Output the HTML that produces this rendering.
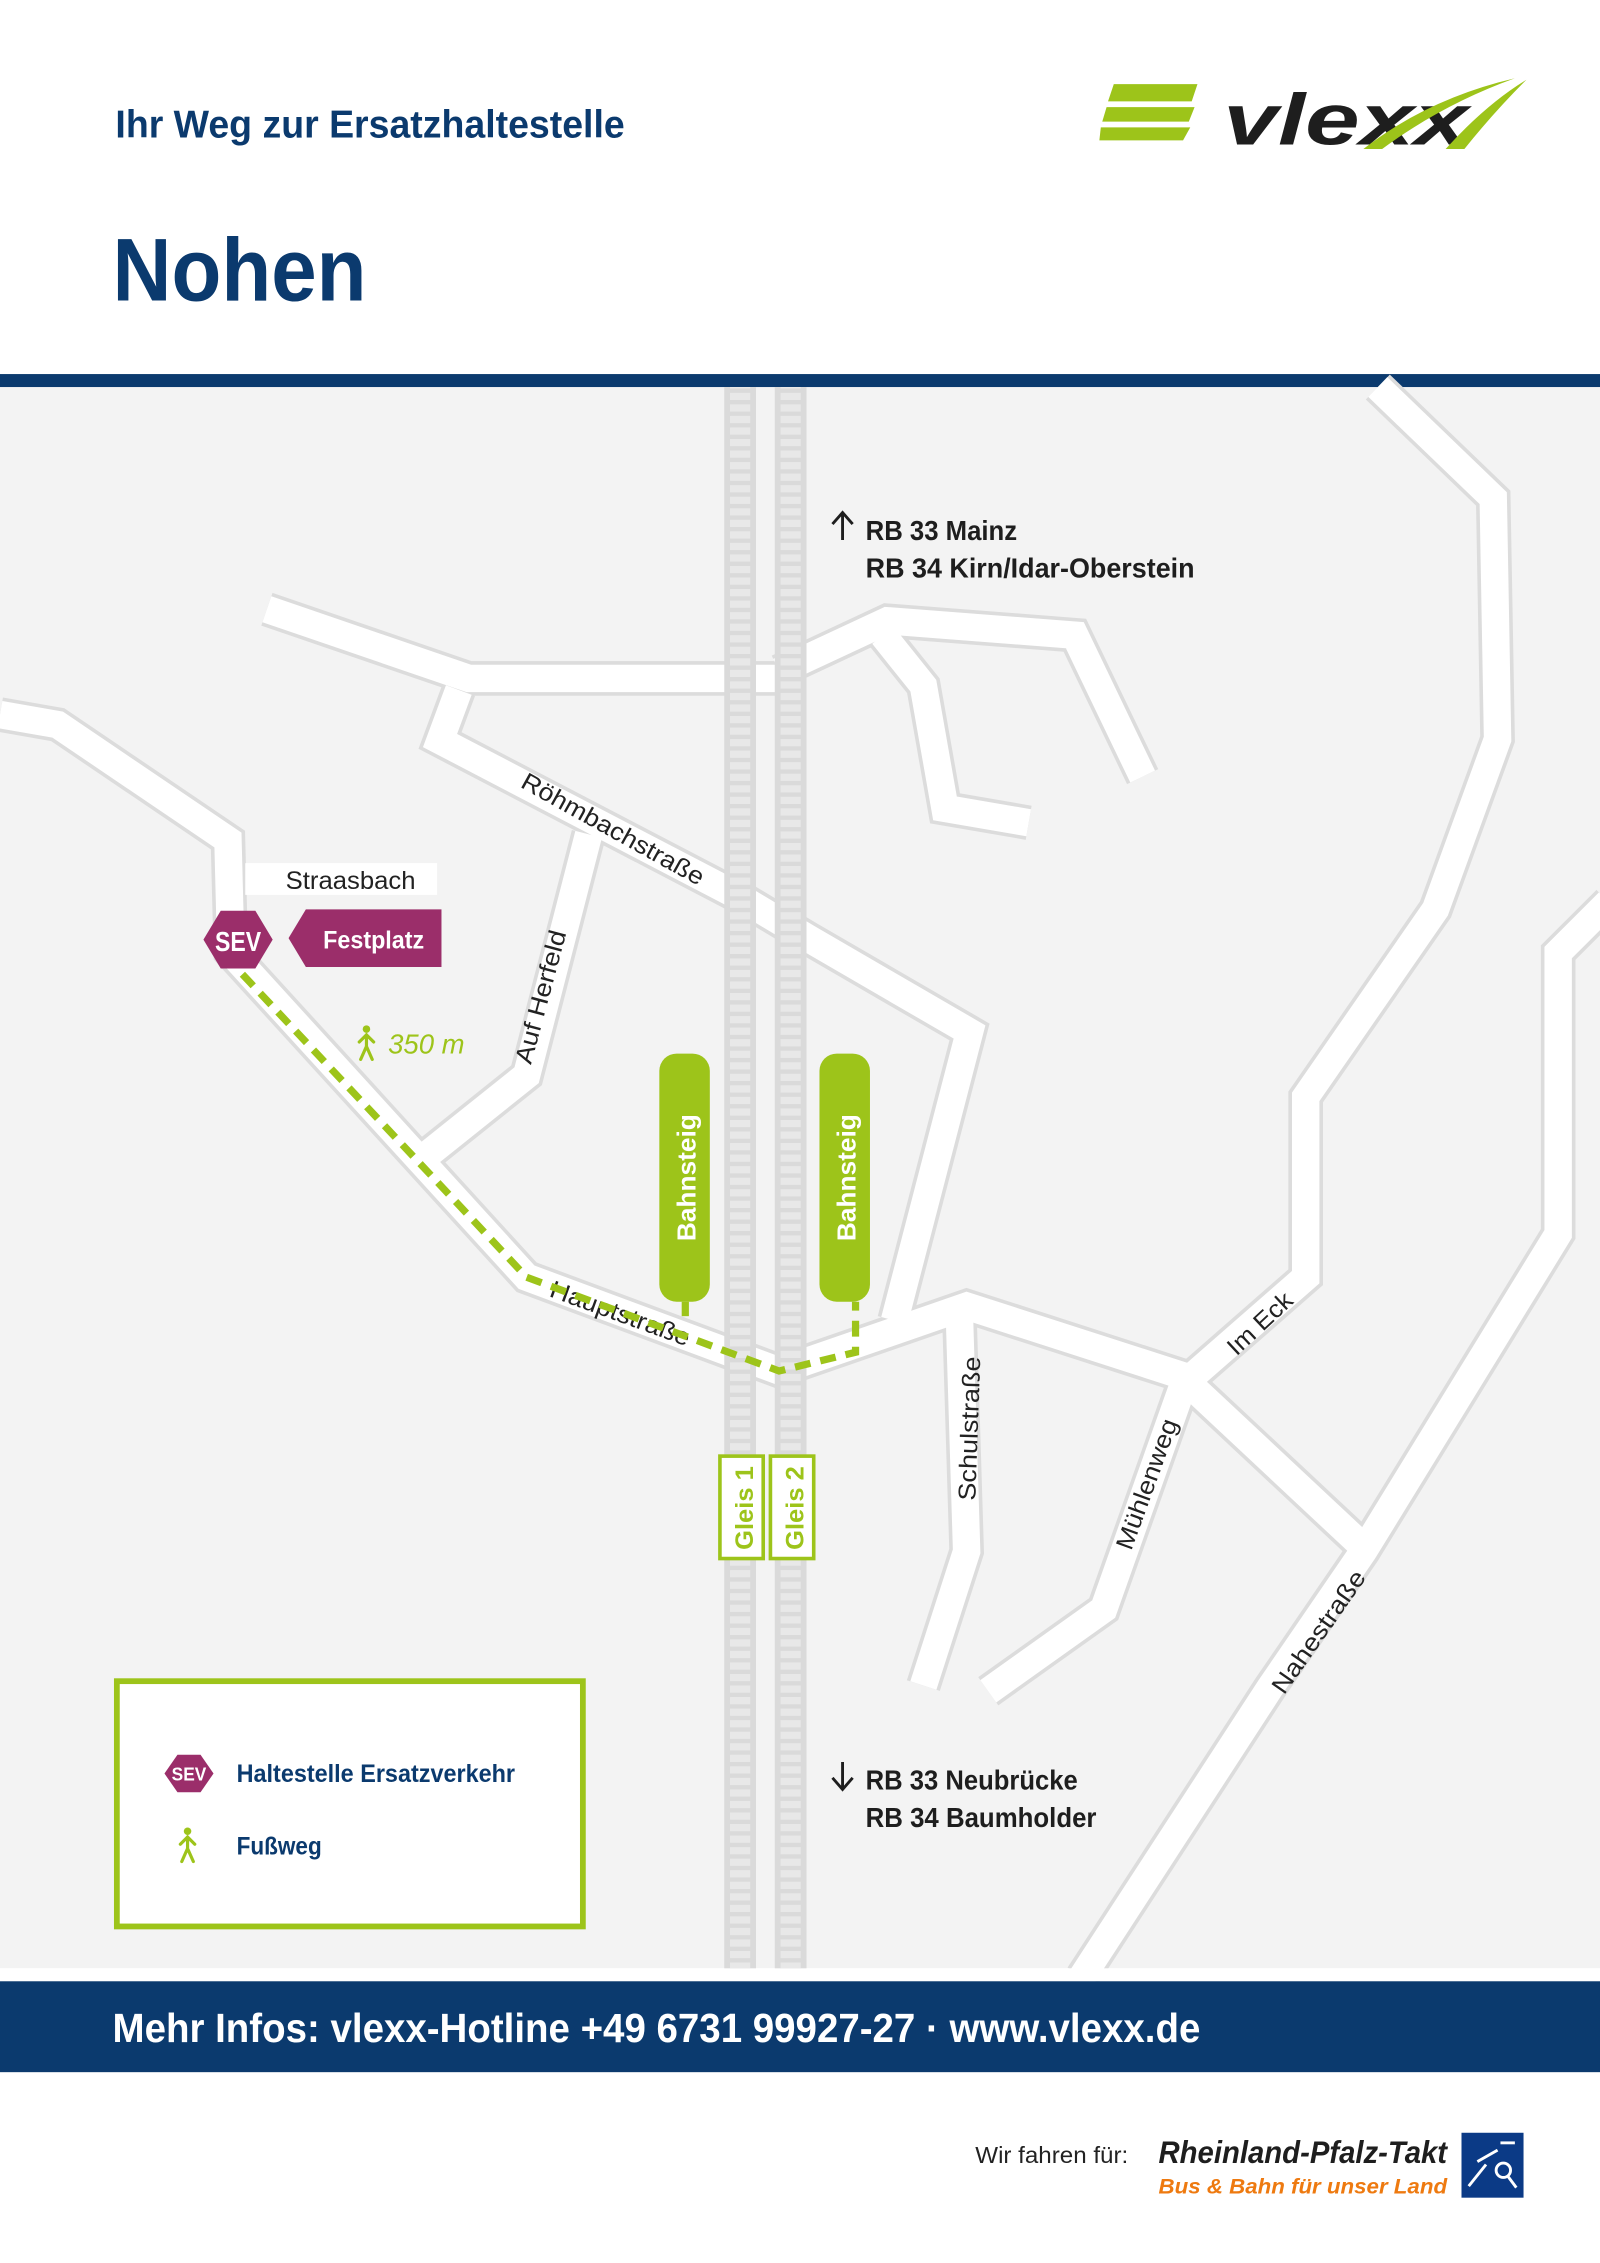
<!DOCTYPE html>
<html><head><meta charset="utf-8"><style>
html,body{margin:0;padding:0;background:#fff}
svg{display:block}
text{font-family:"Liberation Sans",sans-serif}
</style></head><body>
<svg width="1600" height="2263" viewBox="0 0 1109 1568" xmlns="http://www.w3.org/2000/svg">
<rect width="1109" height="1568" fill="#fff"/>
<text x="80" y="95" font-size="27" font-weight="bold" fill="#0b3a6e" textLength="353" lengthAdjust="spacingAndGlyphs">Ihr Weg zur Ersatzhaltestelle</text>
<text x="78" y="208" font-size="62" font-weight="bold" fill="#0b3a6e" textLength="176" lengthAdjust="spacingAndGlyphs">Nohen</text>
<!-- logo -->
<g fill="#9dc41a">
<path d="M772,58 L830,58 L826,70 L768,70 Z"/>
<path d="M767,74 L828,74 L824,84 L764,84 Z"/>
<path d="M763,88 L825,88 L820,97 L762,97 Z"/>
</g>
<text x="848" y="100" font-size="50" font-weight="bold" font-style="italic" fill="#1e1e1e" textLength="170" lengthAdjust="spacingAndGlyphs">vlexx</text>
<path d="M945,103 Q990,68 1050,54 Q1000,72 958,103 Z" fill="#9dc41a"/>
<path d="M1002,103 Q1030,72 1058,55 Q1035,78 1015,103 Z" fill="#9dc41a"/>
<!-- map -->
<rect x="0" y="268" width="1109" height="1096" fill="#f3f3f3"/>
<rect x="0" y="259" width="1109" height="9" fill="#0b3a6e"/>
<g fill="none" stroke-linejoin="miter" stroke-linecap="butt">
<g stroke="#dcdcdc" stroke-width="24">
<polyline points="955,268 1035,345 1038,512 995,630 905,760 905,885 825,955"/>
<polyline points="820,960 765,1115 685,1172"/>
<polyline points="1115,625 1080,660 1080,855 945,1075 880,1170 750,1370"/>
<polyline points="820,955 945,1072"/>
<polyline points="0,495 40,502 158,582 160,660 365,885 540,950 670,905 825,955"/>
<polyline points="290,805 365,745 408,578"/>
<polyline points="185,422 325,470 540,470"/>
<polyline points="318,478 305,513 510,620 560,650 672,715 620,915"/>
<polyline points="665,912 670,1075 640,1168"/>
<polyline points="540,465 615,430 745,440 792,538"/>
<polyline points="612,440 640,475 655,560 713,570"/>
</g>
<g stroke="#fff" stroke-width="19">
<polyline points="955,268 1035,345 1038,512 995,630 905,760 905,885 825,955"/>
<polyline points="820,960 765,1115 685,1172"/>
<polyline points="1115,625 1080,660 1080,855 945,1075 880,1170 750,1370"/>
<polyline points="820,955 945,1072"/>
<polyline points="0,495 40,502 158,582 160,660 365,885 540,950 670,905 825,955"/>
<polyline points="290,805 365,745 408,578"/>
<polyline points="185,422 325,470 540,470"/>
<polyline points="318,478 305,513 510,620 560,650 672,715 620,915"/>
<polyline points="665,912 670,1075 640,1168"/>
<polyline points="540,465 615,430 745,440 792,538"/>
<polyline points="612,440 640,475 655,560 713,570"/>
</g>
</g>
<rect x="0" y="1364" width="1109" height="9" fill="#fff"/>
<rect x="170" y="598" width="133" height="22" fill="#fff"/>
<text x="198" y="616" font-size="17" fill="#222" textLength="90" lengthAdjust="spacingAndGlyphs">Straasbach</text>
<!-- tracks -->
<defs><pattern id="ties" width="14" height="8" patternUnits="userSpaceOnUse"><rect width="14" height="5" fill="#e8e8e8"/></pattern></defs>
<rect x="502" y="268" width="22" height="1096" fill="#dadada"/>
<rect x="537" y="268" width="22" height="1096" fill="#dadada"/>
<rect x="506" y="268" width="14" height="1096" fill="url(#ties)"/>
<rect x="541" y="268" width="14" height="1096" fill="url(#ties)"/>
<!-- road labels -->
<g font-size="17" fill="#222">
<text transform="translate(360,545) rotate(29)" textLength="142" lengthAdjust="spacingAndGlyphs">Röhmbachstraße</text>
<text transform="translate(368,738) rotate(-75)" textLength="95" lengthAdjust="spacingAndGlyphs">Auf Herfeld</text>
<text transform="translate(380,898) rotate(20)" textLength="102" lengthAdjust="spacingAndGlyphs">Hauptstraße</text>
<text transform="translate(676,1040) rotate(-88)" textLength="100" lengthAdjust="spacingAndGlyphs">Schulstraße</text>
<text transform="translate(784,1075) rotate(-70)" textLength="95" lengthAdjust="spacingAndGlyphs">Mühlenweg</text>
<text transform="translate(857,940) rotate(-43)" textLength="55" lengthAdjust="spacingAndGlyphs">Im Eck</text>
<text transform="translate(890,1175) rotate(-55)" textLength="100" lengthAdjust="spacingAndGlyphs">Nahestraße</text>
</g>
<!-- platforms -->
<rect x="457" y="730" width="35" height="172" rx="12" fill="#9dc41a"/>
<rect x="568" y="730" width="35" height="172" rx="12" fill="#9dc41a"/>
<text transform="translate(482,860) rotate(-90)" font-size="18" font-weight="bold" fill="#fff" textLength="88" lengthAdjust="spacingAndGlyphs">Bahnsteig</text>
<text transform="translate(593,860) rotate(-90)" font-size="18" font-weight="bold" fill="#fff" textLength="88" lengthAdjust="spacingAndGlyphs">Bahnsteig</text>
<g fill="#fff" stroke="#9dc41a" stroke-width="2.5">
<rect x="499" y="1009" width="30" height="71"/>
<rect x="534" y="1009" width="30" height="71"/>
</g>
<text transform="translate(522,1074) rotate(-90)" font-size="17" font-weight="bold" fill="#9dc41a" textLength="58" lengthAdjust="spacingAndGlyphs">Gleis 1</text>
<text transform="translate(557,1074) rotate(-90)" font-size="17" font-weight="bold" fill="#9dc41a" textLength="58" lengthAdjust="spacingAndGlyphs">Gleis 2</text>
<!-- walking path -->
<polyline points="168,675 365,885 540,950 593,937 593,902" fill="none" stroke="#9dc41a" stroke-width="5" stroke-dasharray="11,7"/>
<line x1="475" y1="902" x2="475" y2="912" stroke="#9dc41a" stroke-width="5"/>
<!-- SEV -->
<polygon points="153,631 177,631 189,651 177,671 153,671 141,651" fill="#9b2e6a"/>
<text x="165" y="659" font-size="19" font-weight="bold" fill="#fff" text-anchor="middle" textLength="32" lengthAdjust="spacingAndGlyphs">SEV</text>
<polygon points="212,630 306,630 306,670 212,670 200,650" fill="#9b2e6a"/>
<text x="224" y="657" font-size="17" font-weight="bold" fill="#fff" textLength="70" lengthAdjust="spacingAndGlyphs">Festplatz</text>
<g id="walker" fill="#9dc41a" stroke="#9dc41a">
<circle cx="254" cy="713" r="2.6" stroke="none"/>
<path d="M254,717 L254,725 M254,725 L250,734 M254,725 L258,734 M249,722 L254,717 L259,722" fill="none" stroke-width="2.2" stroke-linecap="round"/>
</g>
<text x="269" y="730" font-size="19" font-style="italic" fill="#9dc41a" textLength="53" lengthAdjust="spacingAndGlyphs">350 m</text>
<!-- direction labels -->
<g fill="#1e1e1e" stroke="#1e1e1e" stroke-width="2" fill-opacity="0">
<path d="M584,374 L584,356 M577,363 L584,355 L591,363"/>
<path d="M584,1221 L584,1239 M577,1232 L584,1240 L591,1232"/>
</g>
<g font-size="19" font-weight="bold" fill="#1e1e1e">
<text x="600" y="374" textLength="105" lengthAdjust="spacingAndGlyphs">RB 33 Mainz</text>
<text x="600" y="400" textLength="228" lengthAdjust="spacingAndGlyphs">RB 34 Kirn/Idar-Oberstein</text>
<text x="600" y="1240" textLength="147" lengthAdjust="spacingAndGlyphs">RB 33 Neubrücke</text>
<text x="600" y="1266" textLength="160" lengthAdjust="spacingAndGlyphs">RB 34 Baumholder</text>
</g>
<!-- legend -->
<rect x="81" y="1165" width="323" height="170" fill="#fff" stroke="#9dc41a" stroke-width="4"/>
<polygon points="123,1216 139,1216 148,1229 139,1242 123,1242 114,1229" fill="#9b2e6a"/>
<text x="131" y="1234" font-size="13" font-weight="bold" fill="#fff" text-anchor="middle" textLength="24" lengthAdjust="spacingAndGlyphs">SEV</text>
<text x="164" y="1235" font-size="17" font-weight="bold" fill="#0b3a6e" textLength="193" lengthAdjust="spacingAndGlyphs">Haltestelle Ersatzverkehr</text>
<use href="#walker" transform="translate(-124,556)"/>
<text x="164" y="1285" font-size="17" font-weight="bold" fill="#0b3a6e" textLength="59" lengthAdjust="spacingAndGlyphs">Fußweg</text>
<!-- footer -->
<rect x="0" y="1373" width="1109" height="63" fill="#0b3a6e"/>
<text x="78" y="1415" font-size="28" font-weight="bold" fill="#fff" textLength="754" lengthAdjust="spacingAndGlyphs">Mehr Infos: vlexx-Hotline +49 6731 99927-27 · www.vlexx.de</text>
<text x="676" y="1499" font-size="16" fill="#222" textLength="106" lengthAdjust="spacingAndGlyphs">Wir fahren für:</text>
<text x="803" y="1499" font-size="22" font-weight="bold" font-style="italic" fill="#1e1e1e" textLength="200" lengthAdjust="spacingAndGlyphs">Rheinland-Pfalz-Takt</text>
<text x="803" y="1520" font-size="15" font-weight="bold" font-style="italic" fill="#ee7a10" textLength="200" lengthAdjust="spacingAndGlyphs">Bus &amp; Bahn für unser Land</text>
<rect x="1013" y="1478" width="43" height="45" fill="#0b3a86"/>
<circle cx="1042" cy="1504" r="5" fill="none" stroke="#fff" stroke-width="2"/>
<line x1="1045" y1="1508" x2="1051" y2="1516" stroke="#fff" stroke-width="2"/>
<g stroke="#fff" stroke-width="2"><line x1="1018" y1="1515" x2="1030" y2="1500"/><line x1="1024" y1="1498" x2="1038" y2="1490"/><line x1="1040" y1="1485" x2="1050" y2="1485"/></g>
</svg>
</body></html>
